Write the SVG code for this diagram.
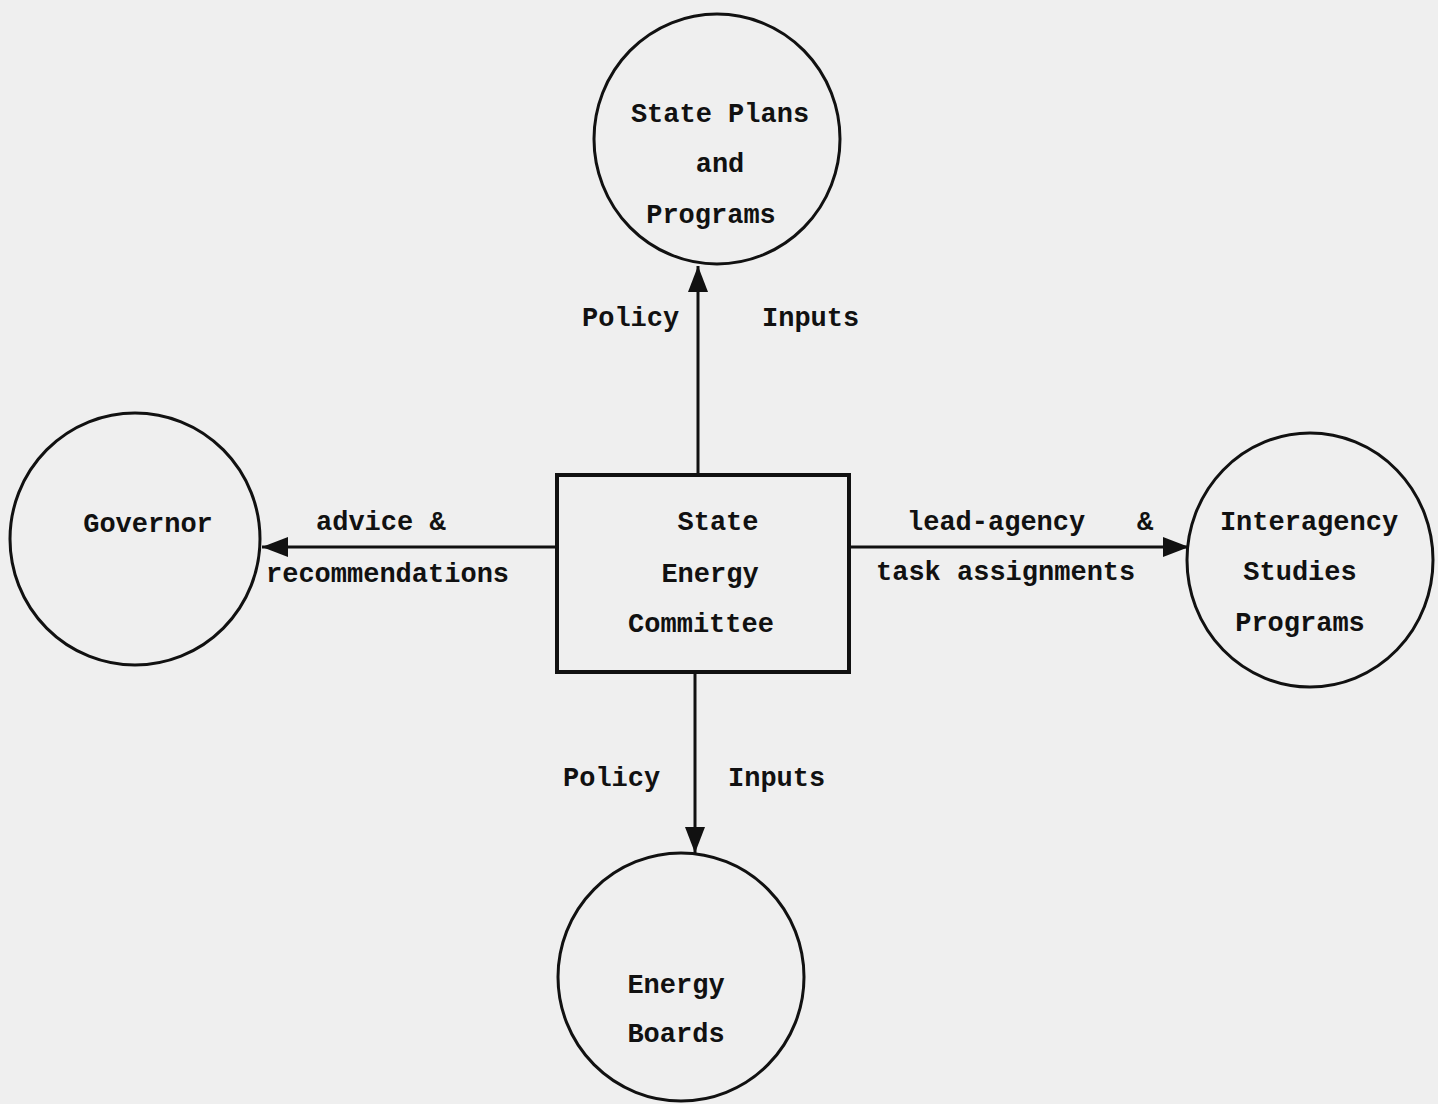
<svg xmlns="http://www.w3.org/2000/svg" width="1438" height="1104" viewBox="0 0 1438 1104">
<style>
  .bg { fill: #efefef; }
  .node { fill: none; stroke: #111; stroke-width: 3; }
  .box { fill: none; stroke: #111; stroke-width: 4; }
  .edge { fill: none; stroke: #111; stroke-width: 3; }
  text { font-family: "Liberation Mono", "Courier New", monospace; font-size: 27px; fill: #111; font-weight: bold; }
  .c { text-anchor: middle; }
</style>
<defs>
  <marker id="arr" viewBox="0 0 26 22" refX="26" refY="11" markerWidth="26" markerHeight="22" markerUnits="userSpaceOnUse" orient="auto">
    <path d="M0,1 L26,11 L0,21 Z" fill="#111"/>
  </marker>
</defs>
<rect class="bg" x="0" y="0" width="1438" height="1104"/>

<g id="edges">
  <line class="edge" x1="698" y1="475" x2="698" y2="266" marker-end="url(#arr)"/>
  <line class="edge" x1="557" y1="547" x2="262" y2="547" marker-end="url(#arr)"/>
  <line class="edge" x1="849" y1="547" x2="1189" y2="547" marker-end="url(#arr)"/>
  <line class="edge" x1="695" y1="672" x2="695" y2="853" marker-end="url(#arr)"/>
  <text x="582" y="326">Policy</text>
  <text x="762" y="326">Inputs</text>
  <text x="316" y="530">advice &amp;</text>
  <text x="266" y="582">recommendations</text>
  <text x="907" y="530">lead-agency</text>
  <text x="1137" y="530">&amp;</text>
  <text x="876" y="580">task assignments</text>
  <text x="563" y="786">Policy</text>
  <text x="728" y="786">Inputs</text>
</g>

<g id="state-plans">
  <ellipse class="node" cx="717" cy="139" rx="123" ry="125"/>
  <text class="c" x="720" y="122">State Plans</text>
  <text class="c" x="720" y="172">and</text>
  <text class="c" x="711" y="223">Programs</text>
</g>

<g id="governor">
  <ellipse class="node" cx="135" cy="539" rx="125" ry="126"/>
  <text class="c" x="148" y="532">Governor</text>
</g>

<g id="committee">
  <rect class="box" x="557" y="475" width="292" height="197"/>
  <text class="c" x="718" y="530">State</text>
  <text class="c" x="710" y="582">Energy</text>
  <text class="c" x="701" y="632">Committee</text>
</g>

<g id="interagency">
  <ellipse class="node" cx="1310" cy="560" rx="123" ry="127"/>
  <text class="c" x="1309" y="530">Interagency</text>
  <text class="c" x="1300" y="580">Studies</text>
  <text class="c" x="1300" y="631">Programs</text>
</g>

<g id="energy-boards">
  <ellipse class="node" cx="681" cy="977" rx="123" ry="124"/>
  <text class="c" x="676" y="993">Energy</text>
  <text class="c" x="676" y="1042">Boards</text>
</g>
</svg>
